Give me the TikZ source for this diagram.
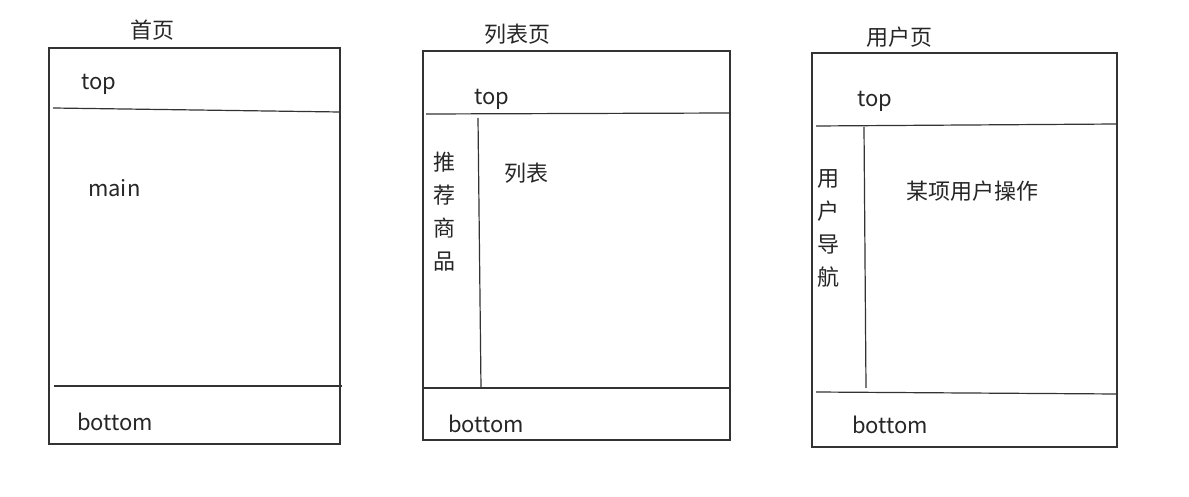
\documentclass[tikz,border=0pt]{standalone}
\usepackage{fontspec}
\newfontfamily\cjk{Noto Sans CJK SC}
\begin{document}
\begin{tikzpicture}[x=1pt,y=-1pt,
    every node/.style={font=\cjk\fontsize{22}{26}\selectfont, inner sep=0pt, text=black!85},
    frame/.style={draw=black!80, line width=1.2pt},
    vert/.style={align=center, font=\cjk\fontsize{22}{33}\selectfont}]
      \useasboundingbox (0,0) rectangle (1189,497);
      % home page
      \draw[frame] (49,48) rectangle (340,444);
      \draw[frame] (53,108) -- (340,112);
      \draw[frame] (54,386) -- (342,386);
      \node (homeTitle) at (152,30) {首页};
      \node[anchor=base west] (homeTop) at (81,90) {top};
      \node[anchor=base west] (homeMain) at (88,197) {main};
      \node[anchor=base west] (homeBottom) at (77,430) {bottom};
      % list page
      \draw[frame] (423,51) rectangle (730,440);
      \draw[frame] (426,114) -- (730,113);
      \draw[frame] (478,118) -- (481,388);
      \draw[frame] (423,388) -- (730,388);
      \node (listTitle) at (517,34) {列表页};
      \node[anchor=base west] (listTop) at (474,105) {top};
      \node[vert] (listSide) at (444,212) {推\\荐\\商\\品};
      \node (listMain) at (526,173) {列表};
      \node[anchor=base west] (listBottom) at (448,432) {bottom};
      % user page
      \draw[frame] (812,53) rectangle (1117,447);
      \draw[frame] (816,126) -- (1117,124);
      \draw[frame] (864,127) -- (866,388);
      \draw[frame] (816,392) -- (1117,394);
      \node (userTitle) at (899,37) {用户页};
      \node[anchor=base west] (userTop) at (857,107) {top};
      \node[vert] (userSide) at (828,228) {用\\户\\导\\航};
      \node (userMain) at (972,191) {某项用户操作};
      \node[anchor=base west] (userBottom) at (852,433) {bottom};
\end{tikzpicture}
\end{document}
